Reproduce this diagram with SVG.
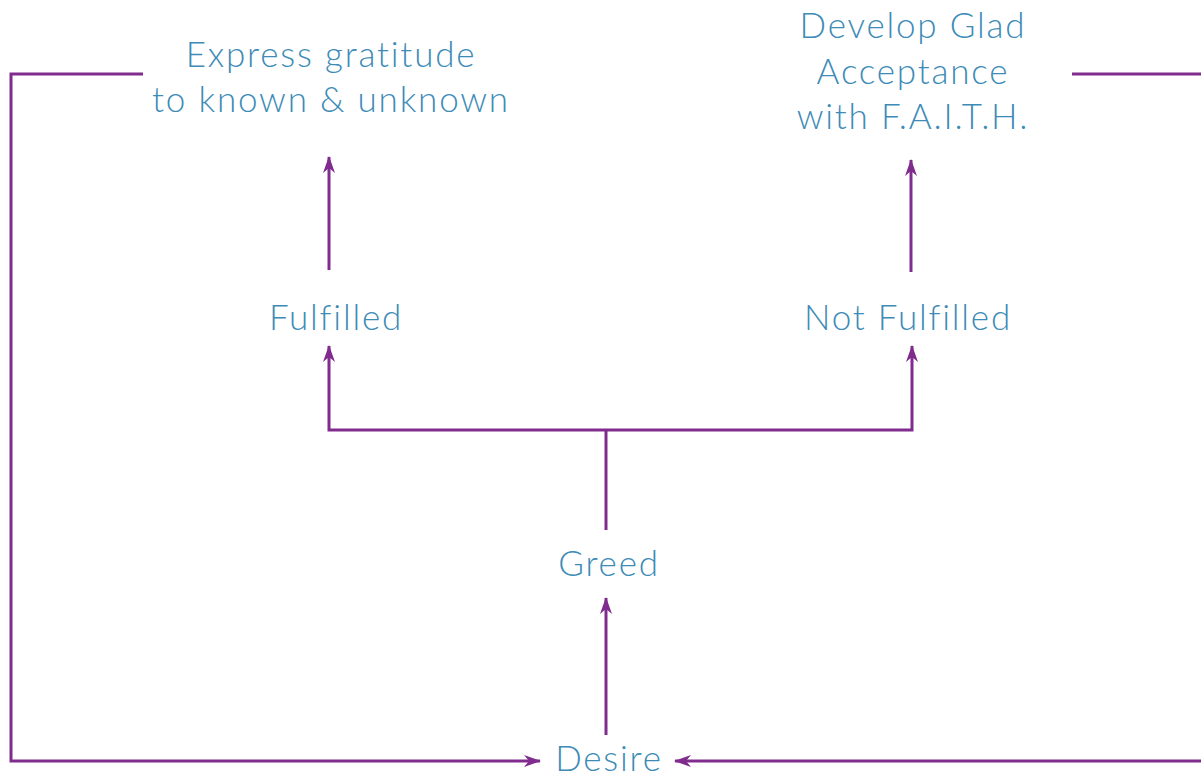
<svg xmlns="http://www.w3.org/2000/svg" width="1201" height="776" viewBox="0 0 1201 776">
<style>
.t{font-family:Lato,"Open Sans","Liberation Sans",sans-serif;font-weight:300;font-size:35px;letter-spacing:1.8px;font-variant-ligatures:none;fill:#3d8bb6;text-anchor:middle}
.c{stroke:#802c8e;stroke-width:3;fill:none}
</style>
<defs>
<marker id="a" viewBox="0 0 17 12" refX="16" refY="6" markerWidth="17" markerHeight="12" markerUnits="userSpaceOnUse" orient="auto">
<path d="M0,0 L17,6 L0,12 L5,6 Z" fill="#802c8e"/>
</marker>
</defs>
<rect width="1201" height="776" fill="#fff"/>
<g id="connectors">
<polyline class="c" points="143,74 11,74 11,761 540,761" marker-end="url(#a)"/>
<polyline class="c" points="1072,74 1203,74 1203,761 675,761" marker-end="url(#a)"/>
<line class="c" x1="606" y1="735" x2="606" y2="598" marker-end="url(#a)"/>
<line class="c" x1="606" y1="530" x2="606" y2="430"/>
<polyline class="c" points="606,430 329,430 329,346" marker-end="url(#a)"/>
<polyline class="c" points="606,430 912,430 912,346" marker-end="url(#a)"/>
<line class="c" x1="329" y1="270" x2="329" y2="157" marker-end="url(#a)"/>
<line class="c" x1="911" y1="272" x2="911" y2="160" marker-end="url(#a)"/>
</g>
<g id="n-express"><text class="t" x="331" y="67">Express gratitude</text><text class="t" x="331" y="112">to known &amp; unknown</text></g>
<g id="n-develop"><text class="t" x="913" y="38">Develop Glad</text><text class="t" x="913" y="84">Acceptance</text><text class="t" x="913" y="129">with F.A.I.T.H.</text></g>
<g id="n-fulfilled"><text class="t" x="336" y="330">Fulfilled</text></g>
<g id="n-notfulfilled"><text class="t" x="908" y="330">Not Fulfilled</text></g>
<g id="n-greed"><text class="t" x="609" y="576">Greed</text></g>
<g id="n-desire"><text class="t" x="609" y="771">Desire</text></g>
</svg>
